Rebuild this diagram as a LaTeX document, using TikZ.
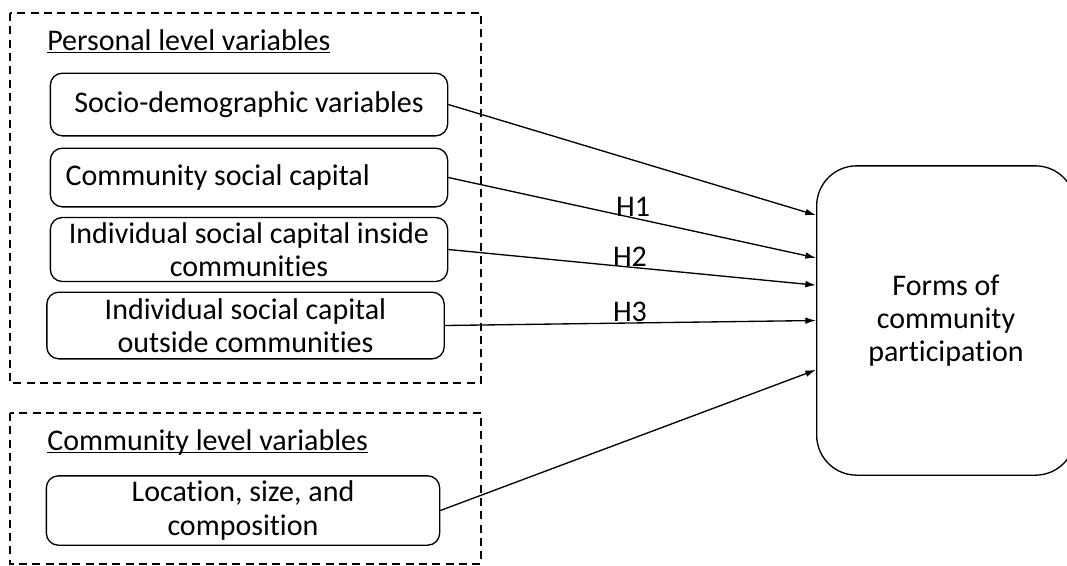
\documentclass[tikz,border=0pt]{standalone}
\usepackage{fontspec}
\setmainfont{Carlito}[Ligatures=NoCommon]
\usetikzlibrary{arrows.meta}

\newcommand{\headline}[1]{\setbox0\hbox{#1}\rlap{\rule[-2pt]{\wd0}{0.8pt}}\box0}

\begin{document}
\begin{tikzpicture}[
    x=0.75pt, y=-0.75pt,
    font=\fontsize{22.5}{25}\selectfont,
    block/.style={rectangle, draw, line width=1pt, rounded corners=9pt,
        minimum width=298pt, minimum height=48pt, align=center, inner sep=2pt},
    group/.style={draw, line width=0.9pt, dash pattern=on 6pt off 4pt},
    heading/.style={anchor=base west, inner sep=0pt},
    arrow/.style={-{Latex[length=8pt,width=5pt]}, line width=1pt}
]
    \useasboundingbox (0,0) rectangle (1067,565);
    \clip (0,0) rectangle (1067,565);

    % dashed groups
    \draw[group] (10,13) rectangle (481,383);
    \draw[group] (10,413) rectangle (481,564);
    \node[heading] (personal) at (47,50) {\headline{Personal level variables}};
    \node[heading] (commlevel) at (47,450) {\headline{Community level variables}};

    % variables
    \node[block, minimum height=47pt] (socio) at (249,104.5) {Socio-demographic variables};
    \node[block, text width=275pt, inner xsep=11.5pt, align=flush left, minimum height=44pt] (commcap) at (249,177.5) {Community social capital};
    \node[block] (inside) at (249,249.5) {Individual social capital inside\\communities};
    \node[block, minimum height=50pt] (outside) at (245.5,325.5) {Individual social capital\\outside communities};
    \node[block, minimum width=295pt, minimum height=52pt] (location) at (243,510.5) {Location, size, and\\composition};

    % outcome
    \node[draw, line width=1pt, rounded corners=30pt, minimum width=194pt, minimum height=232pt, align=center] (forms) at (946,320.5) {Forms of\\community\\participation};

    \draw[arrow] (socio.east) -- ([yshift=79pt]forms.west);
    \draw[arrow] (commcap.east) -- ([yshift=47pt]forms.west);
    \draw[arrow] (inside.east) -- ([yshift=26.5pt]forms.west);
    \draw[arrow] (outside.east) -- ([yshift=0pt]forms.west);
    \draw[arrow] (location.east) -- ([yshift=-37pt]forms.west);

    \node (h1) at (633,207) {H1};
    \node (h2) at (630,257) {H2};
    \node (h3) at (630,312) {H3};
\end{tikzpicture}
\end{document}
